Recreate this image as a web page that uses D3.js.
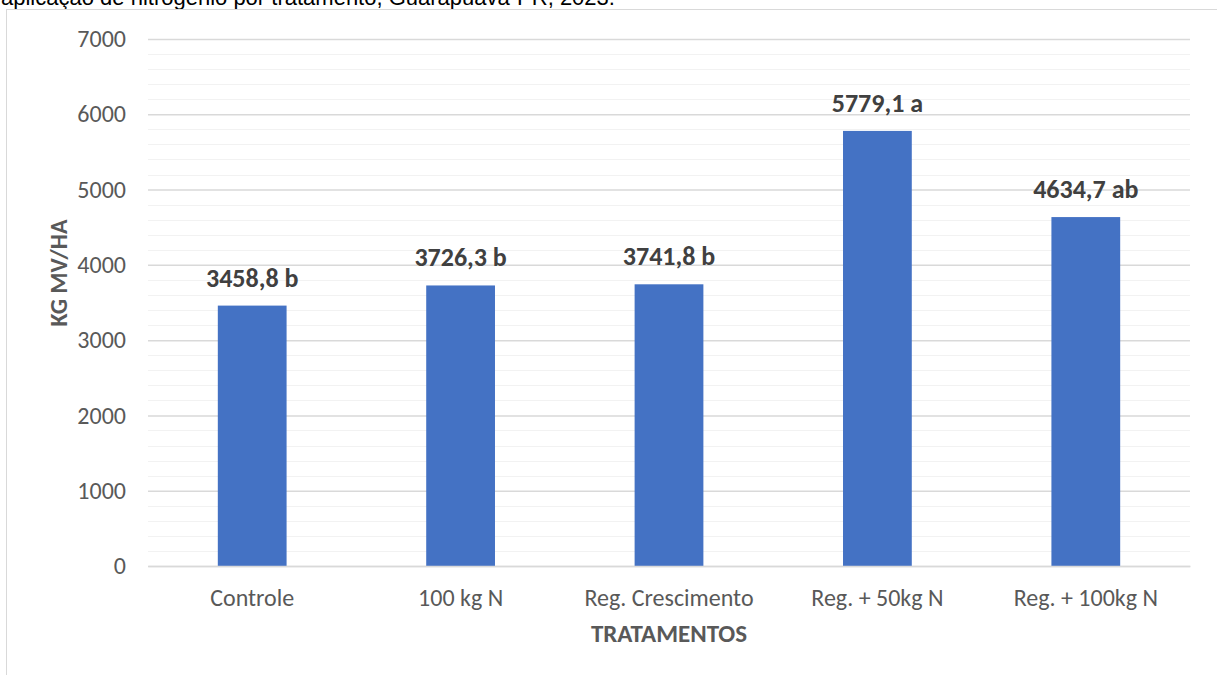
<!DOCTYPE html>
<html>
<head>
<meta charset="utf-8">
<script src="https://cdn.jsdelivr.net/npm/d3@7"></script>
<style>
  html, body { margin: 0; padding: 0; background: #fff; }
  svg { display: block; }
</style>
</head>
<body>
<svg id="chart" width="1217" height="675"></svg>
<script>
// Treatments and mean fresh-mass yield (kg MV/ha) with Tukey letters
const categories = ["Controle", "100 kg N", "Reg. Crescimento", "Reg. + 50kg N", "Reg. + 100kg N"];
const values = [3458.8, 3726.3, 3741.8, 5779.1, 4634.7];
const letters = ["b", "b", "b", "a", "ab"];
const yTicks = [0, 1000, 2000, 3000, 4000, 5000, 6000, 7000];

const svg = d3.select("#chart");
const W = 1217, H = 675;
const margin = { left: 148, right: 27, top: 39, bottom: 109 };
const plotW = W - margin.left - margin.right;
const plotH = H - margin.top - margin.bottom;

const fontMain = "Carlito, Calibri, 'Open Sans', 'Noto Sans', sans-serif";

// caption line partly above the frame
svg.append("text")
  .attr("x", 1).attr("y", 5)
  .attr("font-family", "'Liberation Sans', Arial, sans-serif")
  .attr("font-size", 22).attr("fill", "#000")
  .text("aplicação de nitrogênio por tratamento, Guarapuava-PR, 2023.");

// chart frame
svg.append("rect")
  .attr("x", 6.5).attr("y", 9.5)
  .attr("width", W).attr("height", H)
  .attr("fill", "#fff").attr("stroke", "#d9d9d9").attr("stroke-width", 1);

const g = svg.append("g").attr("transform", `translate(${margin.left},${margin.top})`);

const x = d3.scaleBand().domain(categories).range([0, plotW]).paddingInner(0).paddingOuter(0);
const y = d3.scaleLinear().domain([0, 7000]).range([plotH, 0]);

// minor gridlines every 200
const minor = d3.range(200, 7000, 200).filter(v => v % 1000 !== 0);
g.selectAll(".minor").data(minor).join("line")
  .attr("x1", 0).attr("x2", plotW)
  .attr("y1", d => Math.round(y(d)) + 0.5).attr("y2", d => Math.round(y(d)) + 0.5)
  .attr("stroke", "#f2f2f2").attr("stroke-width", 1);

// major gridlines via axis
const yAxis = d3.axisLeft(y).tickValues(yTicks).tickSize(-plotW).tickFormat(d3.format("d")).tickPadding(22);
const ya = g.append("g").call(yAxis);
ya.select(".domain").remove();
ya.selectAll(".tick line").attr("stroke", "#d9d9d9").attr("stroke-width", 1.5);
ya.selectAll(".tick text")
  .attr("font-family", fontMain).attr("font-size", 24).attr("fill", "#595959");

// bars
const barW = x.bandwidth() * 0.33;
g.selectAll(".bar").data(values).join("rect")
  .attr("x", (d, i) => x(categories[i]) + (x.bandwidth() - barW) / 2)
  .attr("y", d => y(d))
  .attr("width", barW)
  .attr("height", d => y(0) - y(d))
  .attr("fill", "#4472c4");

// value labels
g.selectAll(".lbl").data(values).join("text")
  .attr("x", (d, i) => x(categories[i]) + x.bandwidth() / 2)
  .attr("y", d => y(d) - 19)
  .attr("text-anchor", "middle")
  .attr("font-family", fontMain).attr("font-size", 26).attr("font-weight", "bold")
  .attr("fill", "#404040")
  .text((d, i) => d.toFixed(1).replace(".", ",") + " " + letters[i]);

// x axis
const xAxis = d3.axisBottom(x).tickSize(0).tickPadding(23);
const xa = g.append("g").attr("transform", `translate(0,${plotH})`).call(xAxis);
xa.select(".domain").attr("stroke", "#d9d9d9").attr("stroke-width", 1.5);
xa.selectAll(".tick text")
  .attr("font-family", fontMain).attr("font-size", 24).attr("fill", "#595959");

// axis titles
svg.append("text")
  .attr("x", margin.left + plotW / 2).attr("y", 642)
  .attr("text-anchor", "middle")
  .attr("font-family", fontMain).attr("font-size", 25).attr("font-weight", "bold")
  .attr("fill", "#595959")
  .text("TRATAMENTOS");

svg.append("text")
  .attr("transform", `translate(67,273) rotate(-90)`)
  .attr("text-anchor", "middle")
  .attr("font-family", fontMain).attr("font-size", 24).attr("font-weight", "bold")
  .attr("fill", "#595959")
  .text("KG MV/HA");
</script>
</body>
</html>
